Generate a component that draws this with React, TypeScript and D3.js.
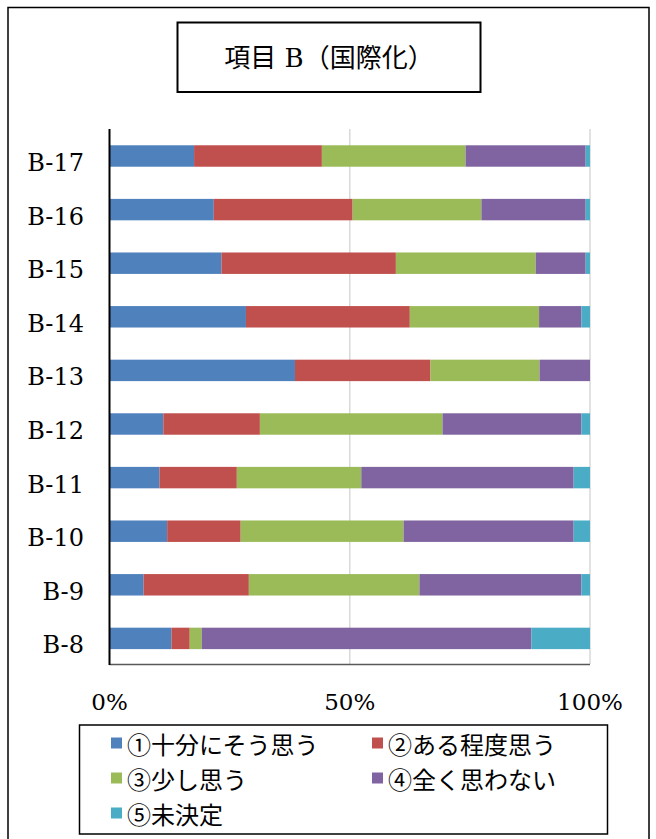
import React from "react";
import * as d3 from "d3";

const categories = ["B-17", "B-16", "B-15", "B-14", "B-13", "B-12", "B-11", "B-10", "B-9", "B-8"];
const seriesNames = ["①十分にそう思う", "②ある程度思う", "③少し思う", "④全く思わない", "⑤未決定"];
const colors = ["#4F81BD", "#C0504D", "#9BBB59", "#8064A2", "#4BACC6"];
const s1 = [17.6, 21.7, 23.3, 28.4, 38.6, 11.2, 10.4, 12.0, 7.1, 12.9];
const s2 = [26.6, 28.9, 36.3, 34.1, 28.2, 20.1, 16.1, 15.3, 21.9, 3.8];
const s3 = [29.9, 26.8, 29.1, 26.9, 22.7, 38.0, 25.9, 33.9, 35.5, 2.5];
const s4 = [25.0, 21.7, 10.4, 8.8, 10.5, 28.9, 44.2, 35.4, 33.7, 68.6];
const s5 = [0.9, 0.9, 0.9, 1.8, 0.0, 1.8, 3.4, 3.4, 1.8, 12.2];
const xTicks = [0, 50, 100];
const title = "項目 B（国際化）";

const serif = "'DejaVu Serif', 'Noto Sans CJK JP', serif";
const cjk = "'Noto Sans CJK JP', 'DejaVu Sans', sans-serif";

export default function App() {
  const W = 656, H = 839;
  const allSeries = [s1, s2, s3, s4, s5];
  const rows = categories.map((c, i) => {
    const o: any = { cat: c };
    allSeries.forEach((s, k) => (o["k" + k] = s[i]));
    return o;
  });
  const keys = allSeries.map((_, k) => "k" + k);
  const stacked = d3.stack().keys(keys)(rows);

  const x = d3.scaleLinear().domain([0, 100]).range([109.5, 590]);
  const y = d3.scaleBand().domain(categories).range([129.2, 665.2]).paddingInner(0.6).paddingOuter(0.3);

  const legendItems = seriesNames.map((n, i) => ({
    name: n,
    color: colors[i],
    x: i % 2 === 0 ? 111 : 372,
    y: 743 + Math.floor(i / 2) * 35,
  }));

  return (
    <svg width={W} height={H} style={{ position: "absolute", left: 0, top: 0, background: "#fff" }}>
      <rect x={0} y={0} width={W} height={H} fill="#fff" />
      {/* outer frame */}
      <rect x={8} y={7.5} width={641} height={900} fill="none" stroke="#000" strokeWidth={1.5} />
      {/* title box */}
      <rect x={177.5} y={22.5} width={303} height={69.5} fill="#fff" stroke="#000" strokeWidth={2} />
      <text x={329} y={58} textAnchor="middle" dominantBaseline="central" fontSize={26} fontFamily={serif} fill="#000">
        {title}
      </text>
      {/* gridlines */}
      {xTicks.slice(1).map((t) => (
        <line key={t} x1={x(t)} x2={x(t)} y1={129} y2={664} stroke="#D9D9D9" strokeWidth={1.5} />
      ))}
      {/* bars */}
      {stacked.map((layer, k) => (
        <g key={k} fill={colors[k]}>
          {layer.map((d, i) => (
            <rect
              key={i}
              x={x(d[0])}
              y={y(categories[i])}
              width={Math.max(0, x(d[1]) - x(d[0]))}
              height={y.bandwidth()}
            />
          ))}
        </g>
      ))}
      {/* axes */}
      <line x1={109.5} x2={590} y1={664.5} y2={664.5} stroke="#595959" strokeWidth={1.5} />
      <line x1={109.5} x2={109.5} y1={129} y2={665} stroke="#000" strokeWidth={2} />
      {/* category labels */}
      {categories.map((c) => (
        <text
          key={c}
          x={84}
          y={(y(c) as number) + y.bandwidth() / 2 + 7}
          textAnchor="end"
          dominantBaseline="central"
          fontSize={24}
          fontFamily={serif}
          fill="#000"
        >
          {c}
        </text>
      ))}
      {/* x tick labels */}
      {xTicks.map((t) => (
        <text
          key={t}
          x={x(t)}
          y={702}
          textAnchor="middle"
          dominantBaseline="central"
          fontSize={23}
          fontFamily={serif}
          fill="#000"
        >
          {t + "%"}
        </text>
      ))}
      {/* legend */}
      <rect x={79.5} y={725} width={528} height={109} fill="#fff" stroke="#000" strokeWidth={1.5} />
      {legendItems.map((it) => (
        <g key={it.name}>
          <rect x={it.x} y={it.y - 5.5} width={11} height={11} fill={it.color} />
          <text x={it.x + 16} y={it.y} dominantBaseline="central" fontSize={24} fontFamily={cjk} fill="#000">
            {it.name}
          </text>
        </g>
      ))}
    </svg>
  );
}
